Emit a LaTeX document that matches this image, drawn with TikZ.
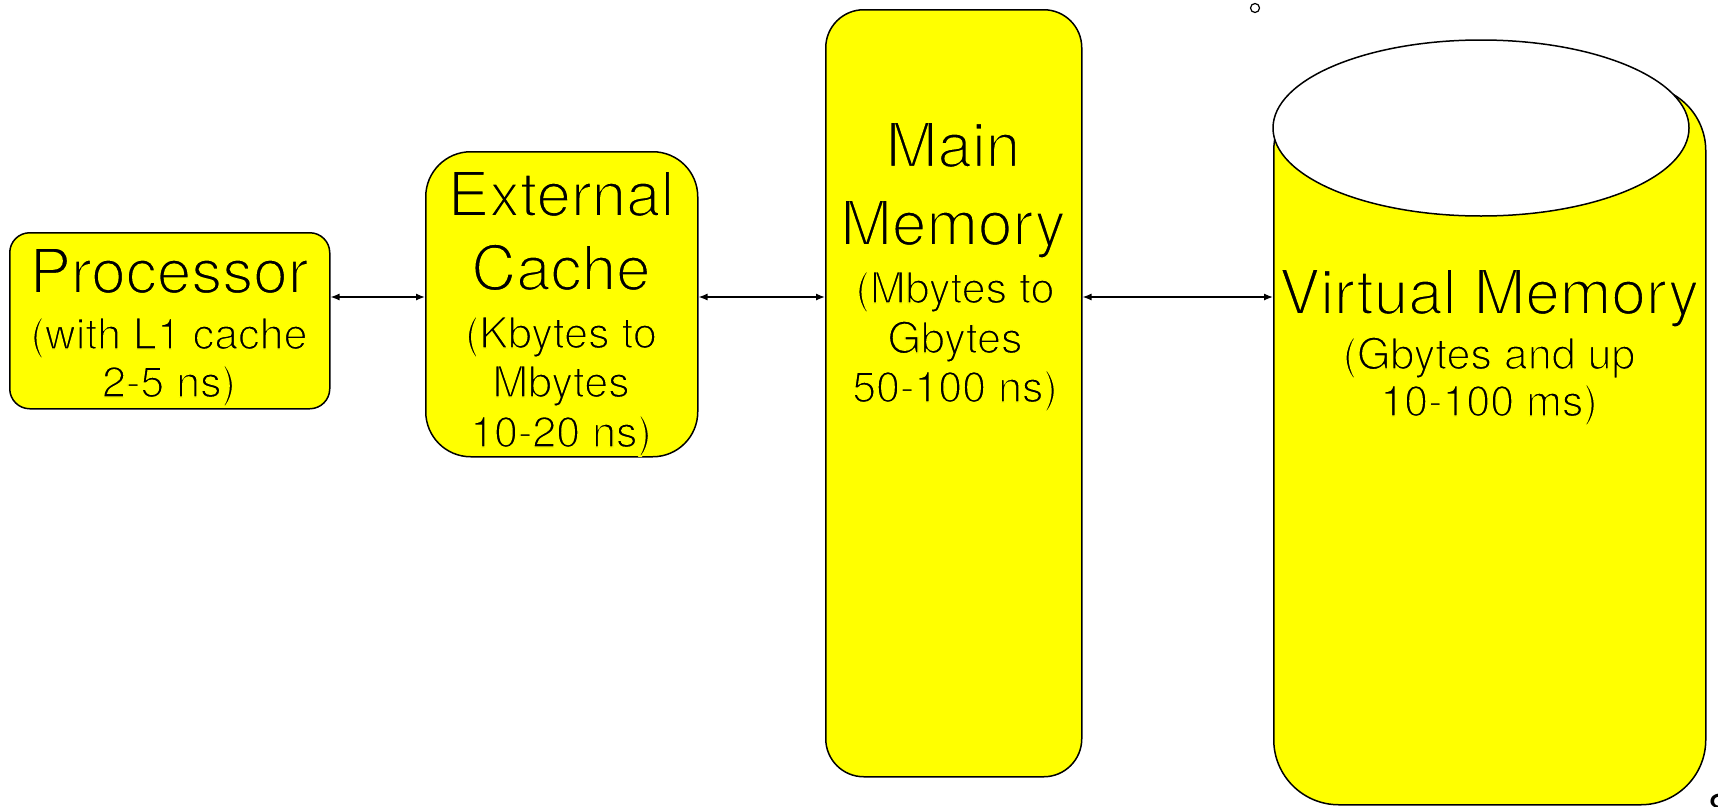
\documentclass[tikz,border=0pt]{standalone}
\usepackage{fontspec}
\setmainfont{TeX Gyre Heros}
\usetikzlibrary{arrows.meta,shapes.geometric}
\definecolor{boxyellow}{RGB}{255,255,0}
\newcommand\lighttxt[2]{\special{pdf:literal direct 2 Tr #1 w 1 1 0 RG}#2\special{pdf:literal direct 0 Tr 0 G}}
\begin{document}
\begin{tikzpicture}[x=1pt,y=-1pt,
 box/.style={draw=black, line width=1.5pt, fill=boxyellow, rounded corners=#1, inner sep=0pt, anchor=north west},
 big/.style={font=\fontsize{62}{75}\selectfont, anchor=base, inner sep=0pt},
 small/.style={font=\fontsize{43}{50}\selectfont, anchor=base, inner sep=0pt},
 link/.style={{Latex[length=9pt,width=7pt]}-{Latex[length=9pt,width=7pt]}, draw=black, line width=1.3pt}]
\useasboundingbox (0,0) rectangle (1718,806);

% boxes
\node[box=20pt, minimum width=320pt, minimum height=176pt] (proc) at (9,232) {};
\node[box=45pt, minimum width=272pt, minimum height=305pt] (cache) at (425,151) {};
\node[box=38pt, minimum width=256pt, minimum height=767pt] (main) at (825,9) {};
\node[box=65pt, minimum width=432pt, minimum height=719pt] (vbody) at (1273,85) {};
\node[ellipse, draw=black, line width=1.5pt, fill=white, minimum width=416pt, minimum height=176pt, inner sep=0pt] (vtop) at (1481,128) {};

% small circle
\node[circle, draw=black, line width=1.2pt, minimum size=9pt, inner sep=0pt] (dot) at (1255,8) {};

% connectors
\coordinate (ay) at (0,297);
\draw[link] (proc.east |- ay) -- (cache.west |- ay);
\draw[link] (cache.east |- ay) -- (main.west |- ay);
\draw[link] (main.east |- ay) -- (vbody.west |- ay);

% texts
\node[big] (pt1) at (169,293) {\lighttxt{2}{Processor}};
\node[small] (pt2) at (169,349) {\lighttxt{1.4}{(with L1 cache}};
\node[small] (pt3) at (169,397) {\lighttxt{1.4}{2-5 ns)}};

\node[big] (ct1) at (561,216) {\lighttxt{2}{External}};
\node[big] (ct2) at (561,290) {\lighttxt{2}{Cache}};
\node[small] (ct3) at (561,348) {\lighttxt{1.4}{(Kbytes to}};
\node[small] (ct4) at (561,397) {\lighttxt{1.4}{Mbytes}};
\node[small] (ct5) at (561,447) {\lighttxt{1.4}{10-20 ns)}};

\node[big] (mt1) at (953,167) {\lighttxt{2}{Main}};
\node[big] (mt2) at (953,245) {\lighttxt{2}{Memory}};
\node[small] (mt3) at (955,303) {\lighttxt{1.4}{(Mbytes to}};
\node[small] (mt4) at (955,353) {\lighttxt{1.4}{Gbytes}};
\node[small] (mt5) at (955,402) {\lighttxt{1.4}{50-100 ns)}};

\node[big] (vt1) at (1489,314) {\lighttxt{2}{Virtual Memory}};
\node[small] (vt2) at (1489,369) {\lighttxt{1.4}{(Gbytes and up}};
\node[small] (vt3) at (1489,416) {\lighttxt{1.4}{10-100 ms)}};

\node[anchor=north west, font=\fontsize{40}{40}\selectfont, inner sep=0pt] (pg) at (1708,794) {8};
\end{tikzpicture}
\end{document}
